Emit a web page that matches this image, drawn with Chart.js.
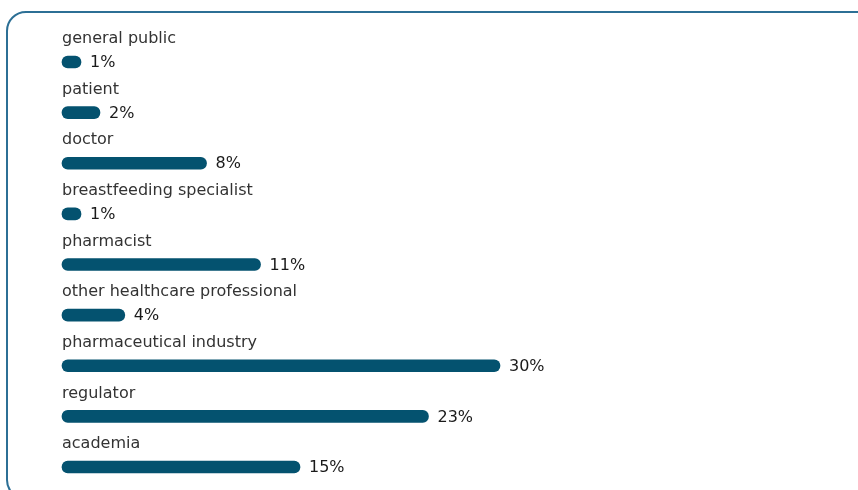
<!DOCTYPE html>
<html>
<head>
<meta charset="utf-8">
<script src="https://cdn.jsdelivr.net/npm/chart.js@4/dist/chart.umd.min.js"></script>
<style>
  html, body { margin: 0; padding: 0; background: #fff; overflow: hidden; }
  #wrap { position: relative; width: 858px; height: 490px; }
  #frame {
    position: absolute; left: 6px; top: 11px; width: 880px; height: 489px;
    border: 2px solid #2c6f95; border-radius: 20px; box-sizing: border-box;
  }
  canvas { position: absolute; left: 0; top: 0; }
</style>
</head>
<body>
<div id="wrap">
  <div id="frame"></div>
  <canvas id="chart"></canvas>
</div>
<script>
const categories = ['general public', 'patient', 'doctor', 'breastfeeding specialist', 'pharmacist',
  'other healthcare professional', 'pharmaceutical industry', 'regulator', 'academia'];
// printed share labels
const percentLabels = ['1%', '2%', '8%', '1%', '11%', '4%', '30%', '23%', '15%'];
// bar lengths (same units, 30% bar = 30)
const barValues = [1.3, 2.6, 9.9, 1.3, 13.6, 4.3, 30, 25.1, 16.3];

const labelPlugin = {
  id: 'rowLabels',
  afterDatasetsDraw(chart) {
    const ctx = chart.ctx;
    const meta = chart.getDatasetMeta(0);
    const left = chart.chartArea.left;
    ctx.save();
    ctx.font = '16px "DejaVu Sans", Verdana, sans-serif';
    ctx.textBaseline = 'middle';
    meta.data.forEach((bar, i) => {
      ctx.fillStyle = '#333';
      ctx.textAlign = 'left';
      ctx.fillText(categories[i], left, bar.y - 23);
      ctx.fillStyle = '#1a1a1a';
      ctx.fillText(percentLabels[i], bar.x + 9, bar.y + 1);
    });
    ctx.restore();
  }
};

const ctx = document.getElementById('chart').getContext('2d');
const chart = new Chart(ctx, {
  type: 'bar',
  data: {
    labels: categories,
    datasets: [{
      data: barValues,
      backgroundColor: '#04526f',
      borderRadius: 6,
      borderSkipped: false,
      barThickness: 12,
      clip: false
    }]
  },
  options: {
    indexAxis: 'y',
    responsive: true,
    maintainAspectRatio: false,
    animation: false,
    layout: { padding: { left: 62, right: 212, top: 62, bottom: 23 } },
    plugins: { legend: { display: false }, tooltip: { enabled: false } },
    scales: {
      x: { display: false, min: 0, max: 40 },
      y: { display: false, offset: false }
    }
  },
  plugins: [labelPlugin]
});
</script>
</body>
</html>
